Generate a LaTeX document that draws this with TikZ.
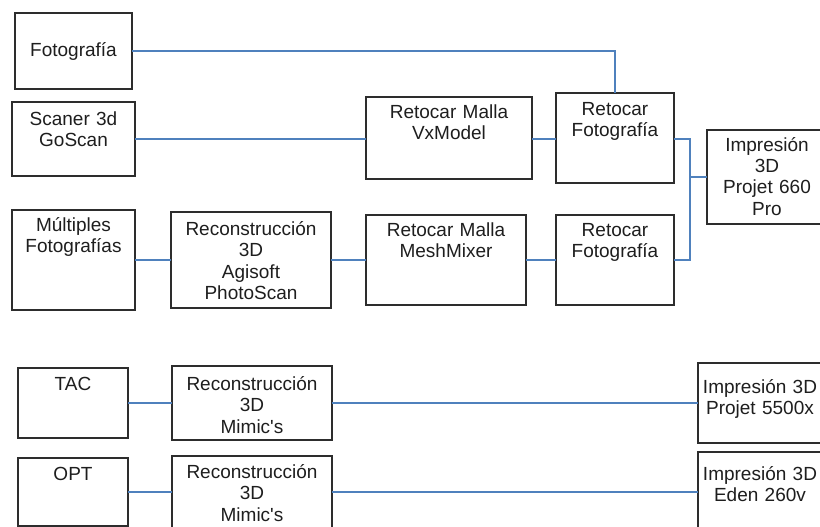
\documentclass[tikz,border=0pt]{standalone}
\usepackage{fontspec}
\setmainfont{Liberation Sans}
\definecolor{conncol}{RGB}{79,129,189}
\definecolor{boxcol}{RGB}{45,45,45}
\definecolor{txtcol}{RGB}{30,30,30}
\tikzset{
  box/.style={draw=boxcol, line width=1.3pt, rectangle, inner sep=0pt, outer sep=0pt},
  txt/.style={text=txtcol, inner sep=0pt, align=center, font={\fontsize{19pt}{21.5pt}\selectfont}},
  conn/.style={draw=conncol, line width=1.5pt},
}
\newcommand\mybox[7]{%
  \node[box, minimum width={(#4-#2)*1pt}, minimum height={(#5-#3)*1pt}] (#1) at ({(#2+#4)/2},{(#3+#5)/2}) {};
  \node[txt, text width={(#4-#2)*1pt}, anchor=base] (#1t) at ({(#2+#4)/2},#6) {#7};
}
\begin{document}
\begin{tikzpicture}[x=1pt,y=-1pt]
\fill[white] (0,0) rectangle (820,527);
\clip (0,0) rectangle (820,527);
\mybox{foto}{15}{13}{132}{89}{57}{Fotografía}
\mybox{scan}{12}{102}{135}{176}{125}{Scaner 3d\\GoScan}
\mybox{vx}{366}{97}{532}{179}{118}{Retocar Malla\\VxModel}
\mybox{rfa}{556}{93}{674}{183}{115}{Retocar\\Fotografía}
\mybox{imp}{707}{130}{827}{224}{151}{Impresión\\3D\\Projet 660\\Pro}
\mybox{mult}{12}{210}{135}{310}{231}{Múltiples\\Fotografías}
\mybox{agi}{171}{212}{331}{308}{235}{Reconstrucción\\3D\\Agisoft\\PhotoScan}
\mybox{mesh}{366}{215}{526}{305}{236}{Retocar Malla\\MeshMixer}
\mybox{rfb}{556}{215}{674}{305}{236}{Retocar\\Fotografía}
\mybox{tac}{18}{368}{128}{438}{390}{TAC}
\mybox{mima}{172}{366}{332}{440}{390}{Reconstrucción\\3D\\Mimic\textquotesingle s}
\mybox{pj}{698}{363}{822}{443}{393}{Impresión 3D\\Projet 5500x}
\mybox{opt}{18}{458}{128}{526}{480}{OPT}
\mybox{mimb}{172}{456}{332}{528}{478}{Reconstrucción\\3D\\Mimic\textquotesingle s}
\mybox{eden}{698}{452}{822}{532}{480}{Impresión 3D\\Eden 260v}
\coordinate (bus) at (690,0);
\draw[conn] (foto.east) -| (rfa.north);
\draw[conn] (scan.east) -- (scan.east -| vx.west);
\draw[conn] (vx.east |- scan.east) -- (rfa.west |- scan.east);
\draw[conn] (rfa.east |- scan.east) -- (bus |- scan.east) -- (bus |- mult.east) -- (rfb.east |- mult.east);
\draw[conn] (imp.west -| bus) -- (imp.west);
\draw[conn] (mult.east) -- (mult.east -| agi.west);
\draw[conn] (agi.east) -- (agi.east -| mesh.west);
\draw[conn] (mesh.east) -- (mesh.east -| rfb.west);
\draw[conn] (tac.east) -- (tac.east -| mima.west);
\draw[conn] (mima.east) -- (mima.east -| pj.west);
\draw[conn] (opt.east) -- (opt.east -| mimb.west);
\draw[conn] (mimb.east) -- (mimb.east -| eden.west);
\end{tikzpicture}
\end{document}
